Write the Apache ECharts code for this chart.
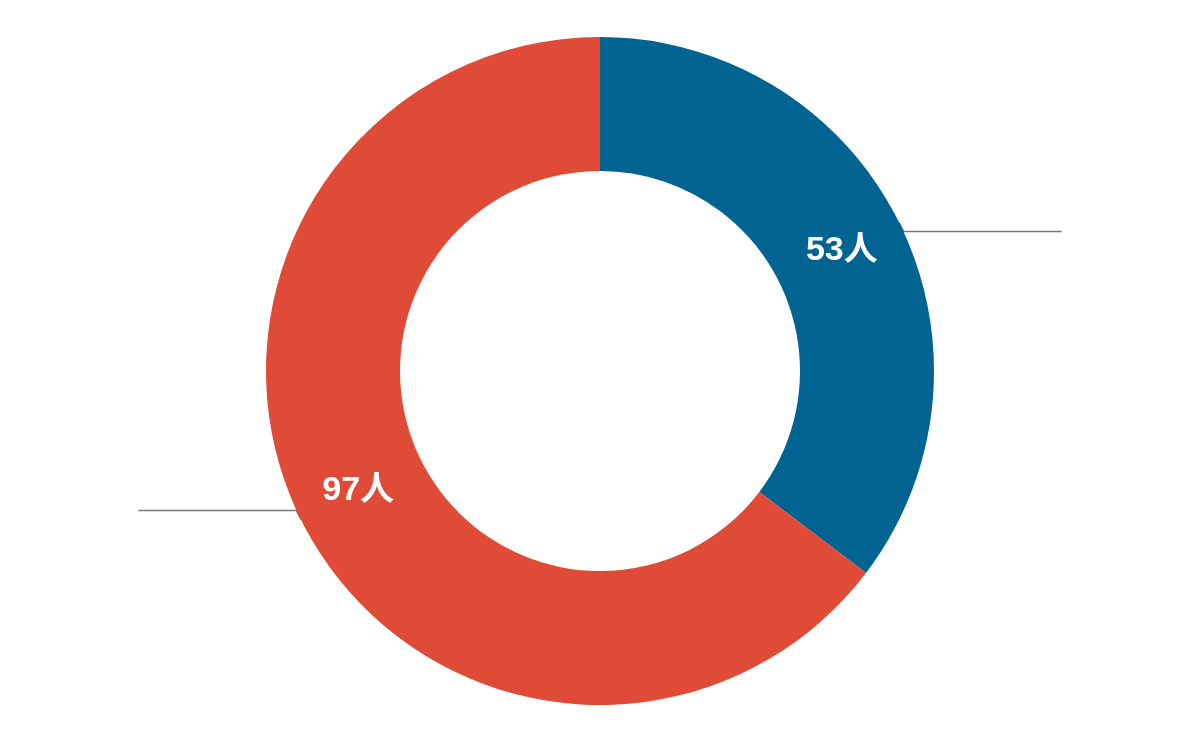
<!DOCTYPE html>
<html lang="ja">
<head>
<meta charset="UTF-8">
<title>男女比</title>
<script src="https://cdn.jsdelivr.net/npm/echarts@6/dist/echarts.min.js"></script>
<style>
    html, body { margin: 0; padding: 0; background: #fff; }
    #main { width: 1200px; height: 742px; }
</style>
</head>
<body>
<div id="main"></div>
<script type="text/javascript">
    // データ
    var names = ['男性', '女性'];
    var counts = [53, 97];
    var colors = ['#006391', '#E04B37'];

    var data = names.map(function (n, i) {
        return { name: n, value: counts[i], itemStyle: { color: colors[i] } };
    });

    var font = '"Liberation Sans", "Noto Sans CJK JP", sans-serif';
    var myChart = echarts.init(document.getElementById('main'));

    var option = {
        animation: false,
        series: [
            {
                // 内側の人数ラベル
                type: 'pie',
                center: [600, 371],
                radius: [200, 334],
                startAngle: 90,
                clockwise: true,
                data: data,
                itemStyle: { borderColor: '#fff', borderWidth: 0 },
                label: {
                    position: 'inside',
                    formatter: '{c}人',
                    color: '#fff',
                    fontSize: 34,
                    fontWeight: 'bold',
                    fontFamily: font
                },
                labelLine: { show: false }
            },
            {
                // 外側の名前・割合ラベル
                type: 'pie',
                center: [600, 371],
                radius: [200, 334],
                startAngle: 90,
                clockwise: true,
                percentPrecision: 1,
                data: data,
                itemStyle: { opacity: 0 },
                silent: true,
                label: {
                    position: 'outside',
                    alignTo: 'edge',
                    edgeDistance: 37,
                    formatter: '{n|{b}}\n{p|{d}%}',
                    rich: {
                        n: { color: '#455a64', fontSize: 34, fontWeight: 'bold', fontFamily: font, lineHeight: 44 },
                        p: { color: '#9e9e9e', fontSize: 34, fontWeight: 'bold', fontFamily: font, lineHeight: 44 }
                    }
                },
                labelLine: {
                    show: true,
                    length: -20,
                    length2: 10,
                    lineStyle: { color: '#777', width: 1.5 }
                }
            }
        ]
    };

    myChart.setOption(option);
</script>
</body>
</html>
